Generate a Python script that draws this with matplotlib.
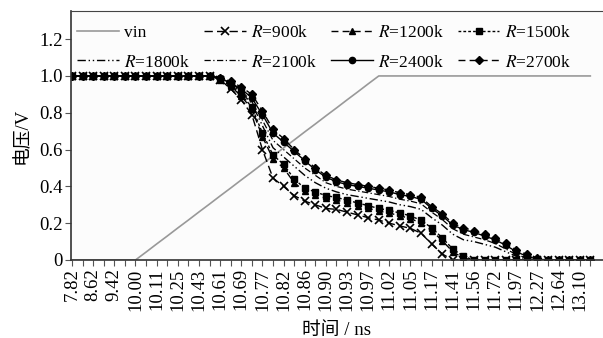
import matplotlib
matplotlib.use("Agg")
import matplotlib.pyplot as plt

plt.rcParams['font.family'] = ['Liberation Serif', 'Noto Sans CJK SC']
plt.rcParams['mathtext.fontset'] = 'stix'

# category tick labels (every other category is labelled)
tick_labels = ["7.82", "8.62", "9.42", "10.00", "10.11", "10.25", "10.43", "10.61",
               "10.69", "10.77", "10.82", "10.86", "10.90", "10.93", "10.97", "11.02",
               "11.05", "11.17", "11.41", "11.56", "11.72", "11.97", "12.27", "12.64", "13.10"]
n_points = 50

vin = [0, 0, 0, 0, 0, 0, 0, 0.043, 0.087, 0.13, 0.174, 0.217, 0.261, 0.304, 0.348,
       0.391, 0.435, 0.478, 0.522, 0.565, 0.609, 0.652, 0.696, 0.739, 0.783, 0.826,
       0.87, 0.913, 0.957, 1, 1, 1, 1, 1, 1, 1, 1, 1, 1, 1, 1, 1, 1, 1, 1, 1, 1, 1, 1, 1]

flat = [1.0] * 14
r900 = flat + [0.98, 0.93, 0.87, 0.79, 0.60, 0.445, 0.40, 0.35, 0.32, 0.30, 0.28, 0.275,
               0.26, 0.245, 0.23, 0.217, 0.20, 0.185, 0.172, 0.145, 0.087, 0.033,
               0, 0, 0, 0, 0, 0, 0, 0, 0, 0, 0, 0, 0, 0]
r1200 = flat + [0.98, 0.945, 0.89, 0.82, 0.67, 0.55, 0.50, 0.42, 0.375, 0.355, 0.335, 0.325,
                0.31, 0.295, 0.28, 0.265, 0.255, 0.24, 0.225, 0.20, 0.16, 0.105, 0.045,
                0.01, 0, 0, 0, 0, 0, 0, 0, 0, 0, 0, 0, 0]
r1500 = flat + [0.985, 0.95, 0.90, 0.83, 0.69, 0.57, 0.52, 0.44, 0.39, 0.37, 0.35, 0.34,
                0.325, 0.31, 0.295, 0.28, 0.27, 0.255, 0.24, 0.215, 0.175, 0.12, 0.06,
                0.02, 0, 0, 0, 0, 0, 0, 0, 0, 0, 0, 0, 0]
r1800 = flat + [0.985, 0.955, 0.91, 0.85, 0.73, 0.61, 0.56, 0.51, 0.46, 0.42, 0.39, 0.37,
                0.355, 0.345, 0.335, 0.325, 0.315, 0.30, 0.29, 0.275, 0.23, 0.19, 0.14,
                0.11, 0.10, 0.085, 0.07, 0.045, 0.02, 0.005, 0, 0, 0, 0, 0, 0]
r2100 = flat + [0.99, 0.96, 0.92, 0.86, 0.76, 0.65, 0.60, 0.55, 0.50, 0.46, 0.42, 0.40,
                0.385, 0.375, 0.365, 0.355, 0.345, 0.33, 0.32, 0.305, 0.26, 0.22, 0.17,
                0.14, 0.125, 0.11, 0.09, 0.06, 0.03, 0.01, 0, 0, 0, 0, 0, 0]
r2400 = flat + [0.99, 0.96, 0.93, 0.88, 0.79, 0.69, 0.64, 0.59, 0.54, 0.49, 0.45, 0.425,
                0.41, 0.40, 0.39, 0.38, 0.37, 0.355, 0.345, 0.33, 0.28, 0.24, 0.19,
                0.165, 0.15, 0.13, 0.11, 0.08, 0.045, 0.02, 0.005, 0, 0, 0, 0, 0]
r2700 = flat + [0.99, 0.97, 0.94, 0.90, 0.81, 0.71, 0.66, 0.60, 0.55, 0.50, 0.46, 0.435,
                0.42, 0.41, 0.40, 0.39, 0.38, 0.365, 0.355, 0.34, 0.29, 0.25, 0.20,
                0.175, 0.16, 0.14, 0.12, 0.09, 0.055, 0.03, 0.01, 0, 0, 0, 0, 0]

x = list(range(n_points))

fig = plt.figure(figsize=(6.03, 3.38), dpi=100)
ax = fig.add_axes([0.1177, 0.2308, 0.8823, 0.7367])
ax.set_facecolor('#fcfcfc')

k = dict(color='black', lw=1.0, markersize=4.5)
h_vin, = ax.plot(x, vin, color='#999999', lw=1.2, label='vin')
h900, = ax.plot(x, r900, ls=(0, (6, 3)), marker='x', markersize=5.5, markeredgewidth=1.2,
                color='black', lw=1.0, label='$R$=900k')
h1200, = ax.plot(x, r1200, ls=(0, (5, 3)), marker='^', label='$R$=1200k', **k)
h1500, = ax.plot(x, r1500, ls=(0, (2, 1.5)), marker='s', label='$R$=1500k', **k)
h1800, = ax.plot(x, r1800, ls=(0, (6, 2, 1, 2, 1, 2)), color='black', lw=1.0,
                 label='$R$=1800k')
h2100, = ax.plot(x, r2100, ls=(0, (5, 2, 1, 2)), color='black', lw=0.9,
                 label='$R$=2100k')
h2400, = ax.plot(x, r2400, ls='-', marker='o', label='$R$=2400k', **k)
h2700, = ax.plot(x, r2700, ls=(0, (5, 3)), marker='D', markersize=4, color='black',
                 lw=1.0, label='$R$=2700k')

ax.set_xlim(-0.1, 50.2)
ax.set_ylim(0, 1.353)
ax.set_yticks([0, 0.2, 0.4, 0.6, 0.8, 1.0, 1.2])
ax.set_yticklabels(['0', '0.2', '0.4', '0.6', '0.8', '1.0', '1.2'], fontsize=13.5)

ax.set_xticks(x)
labels = []
for i in x:
    labels.append(tick_labels[i // 2] if i % 2 == 0 and i // 2 < len(tick_labels) else '')
ax.set_xticklabels(labels, rotation=90, fontsize=13.5)
ax.tick_params(axis='both', direction='out', length=4, width=0.8, color='#555555', pad=2)

for s in ['left', 'bottom']:
    ax.spines[s].set_color('#333333')
    ax.spines[s].set_linewidth(1.2)
ax.spines['top'].set_color('#444444')
ax.spines['right'].set_visible(False)

ax.set_ylabel('电压/V', fontsize=13.5, labelpad=6)
ax.set_xlabel('时间 / ns', fontsize=13.5, labelpad=8)

handles = [h_vin, h1800, h900, h2100, h1200, h2400, h1500, h2700]
ax.legend(handles=handles, labels=[h.get_label() for h in handles], ncol=4,
          loc='upper left', bbox_to_anchor=(0.012, 0.943), frameon=False, fontsize=12.5,
          handlelength=2.4, handletextpad=0.3, columnspacing=0.8, labelspacing=0.75,
          borderaxespad=0.0, borderpad=0.0)

fig.savefig('out.png', dpi=100)
